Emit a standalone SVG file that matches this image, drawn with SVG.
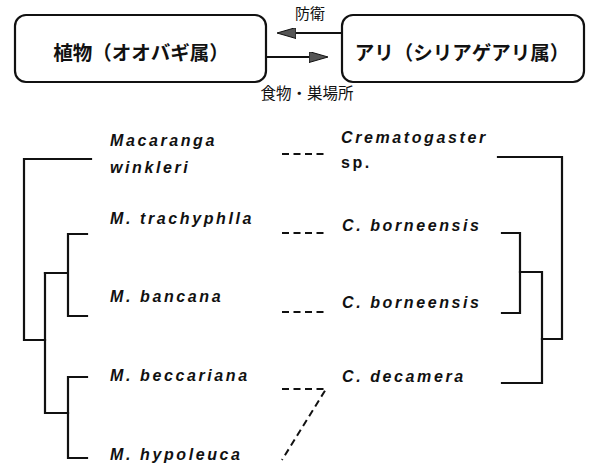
<svg xmlns="http://www.w3.org/2000/svg" width="589" height="464" viewBox="0 0 589 464">
<style>
  .box { fill: #fff; stroke: #111; stroke-width: 2.2; }
  .jp { font-family: "Noto Sans CJK JP", sans-serif; fill: #111; }
  .boxlabel { font-size: 19.5px; font-weight: 700; text-anchor: middle; }
  .arrowlabel { font-size: 15px; font-weight: 400; text-anchor: middle; }
  .taxon { font-family: "Liberation Sans", Arial, sans-serif; font-size: 16px; font-style: italic; font-weight: 700; letter-spacing: 2.6px; fill: #111; }
  .up { font-style: normal; }
  .tree { fill: none; stroke: #111; stroke-width: 2.2; stroke-linecap: square; }
  .link { fill: none; stroke: #111; stroke-width: 2; stroke-dasharray: 7 4.5; }
  .arrow { fill: none; stroke: #111; stroke-width: 2.2; }
</style>
<defs>
  <marker id="head" viewBox="0 0 19 11" refX="11" refY="5.5" markerWidth="19" markerHeight="11" markerUnits="userSpaceOnUse" orient="auto">
    <path d="M0,0 L19,5.5 L0,11 z" fill="#555" stroke="#111" stroke-width="1"/>
  </marker>
</defs>

<g id="plant">
  <rect class="box" x="15" y="15" width="251" height="67" rx="11"/>
  <text class="jp boxlabel" x="141" y="60">植物（オオバギ属）</text>
</g>
<g id="ant">
  <rect class="box" x="342" y="15" width="242" height="67" rx="11"/>
  <text class="jp boxlabel" x="462" y="60">アリ（シリアゲアリ属）</text>
</g>

<g id="connectors">
  <path class="arrow" d="M342,33 H285" marker-end="url(#head)"/>
  <path class="arrow" d="M265,57 H320" marker-end="url(#head)"/>
  <text class="jp arrowlabel" x="310" y="19">防衛</text>
  <text class="jp arrowlabel" x="307" y="99" style="font-size:15.5px">食物・巣場所</text>

  <!-- plant tree -->
  <path class="tree" d="M91,159 H24 V340 H45"/>
  <path class="tree" d="M45,273 V413 H68"/>
  <path class="tree" d="M45,273 H68 M87,234 H68 V316 H87"/>
  <path class="tree" d="M87,377 H68 V458 H87"/>

  <!-- ant tree -->
  <path class="tree" d="M498,157 H562 V339 H542"/>
  <path class="tree" d="M502,233 H520 V313 H502"/>
  <path class="tree" d="M520,272 H542 V383 H502"/>

  <!-- association links -->
  <path class="link" d="M282,154 H324"/>
  <path class="link" d="M282,233 H324"/>
  <path class="link" d="M282,312 H324"/>
  <path class="link" d="M282,389 H326 L282,460"/>
</g>

<g id="plant-taxa">
  <g id="p1"><text class="taxon" x="110" y="146">Macaranga</text><text class="taxon" x="110" y="173">winkleri</text></g>
  <g id="p2"><text class="taxon" x="110" y="224">M. trachyphlla</text></g>
  <g id="p3"><text class="taxon" x="110" y="302">M. bancana</text></g>
  <g id="p4"><text class="taxon" x="110" y="381">M. beccariana</text></g>
  <g id="p5"><text class="taxon" x="110" y="460">M. hypoleuca</text></g>
</g>
<g id="ant-taxa">
  <g id="a1"><text class="taxon" x="341" y="143">Crematogaster</text><text class="taxon up" x="341" y="168">sp.</text></g>
  <g id="a2"><text class="taxon" x="342" y="231">C. borneensis</text></g>
  <g id="a3"><text class="taxon" x="342" y="308">C. borneensis</text></g>
  <g id="a4"><text class="taxon" x="342" y="382">C. decamera</text></g>
</g>
</svg>
